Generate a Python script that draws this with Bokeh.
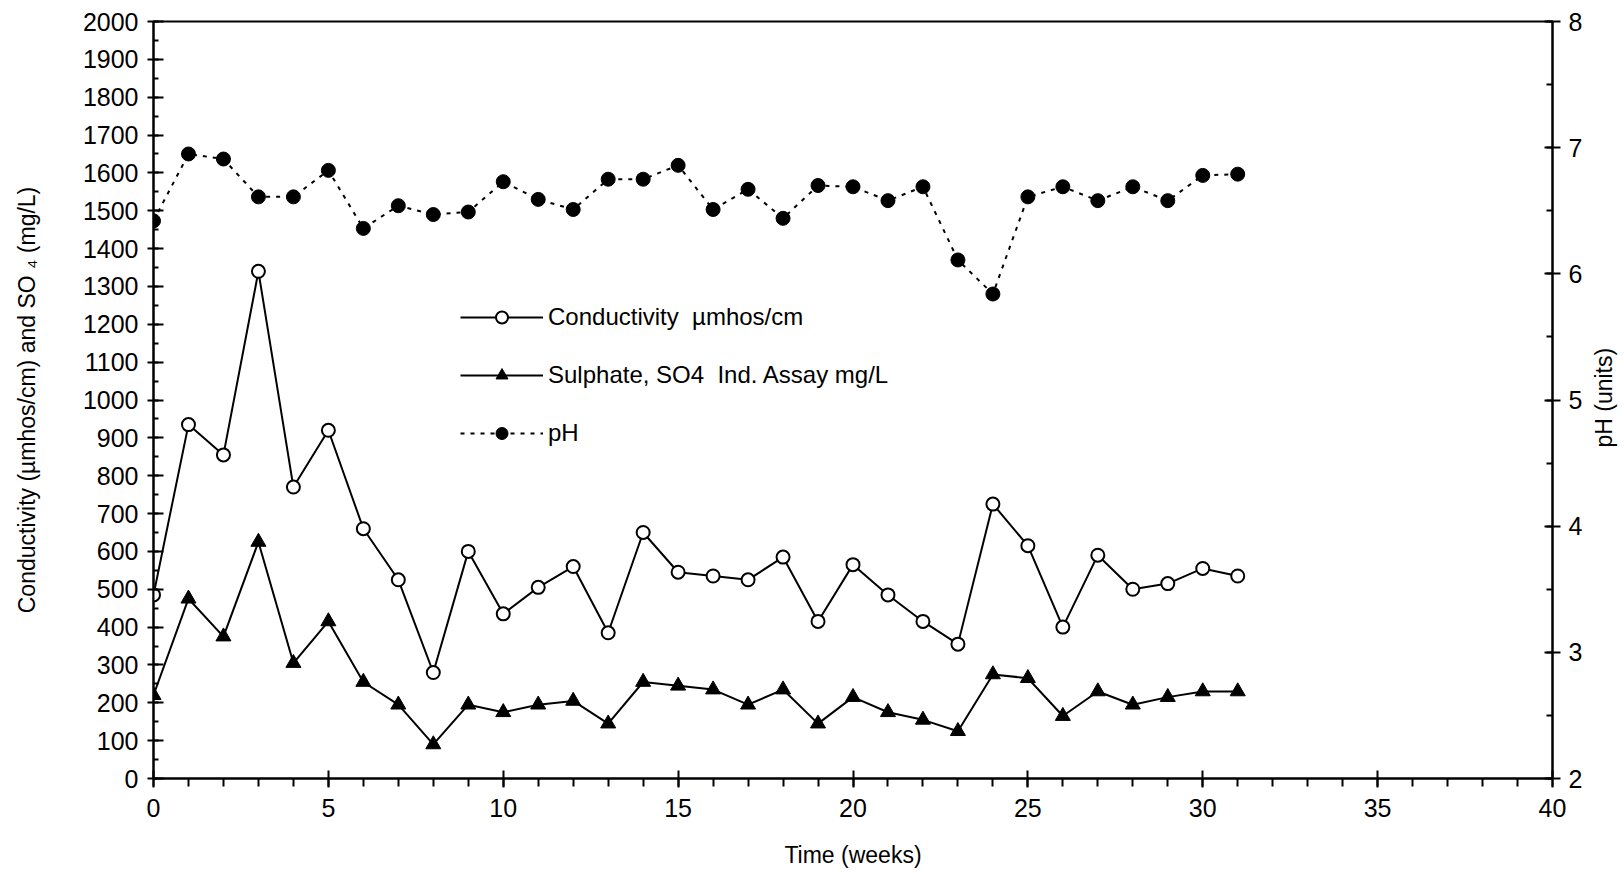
import math
from bokeh.plotting import figure
from bokeh.models import LinearAxis, Range1d, SingleIntervalTicker, Legend, LegendItem, Label
from bokeh.embed import file_html
from bokeh.resources import INLINE

weeks = list(range(0, 32))
conductivity = [485, 935, 855, 1340, 770, 920, 660, 525, 280, 600, 435, 505,
                560, 385, 650, 545, 535, 525, 585, 415, 565, 485, 415, 355,
                725, 615, 400, 590, 500, 515, 555, 535]
sulphate = [220, 475, 375, 625, 305, 415, 255, 195, 90, 195, 175, 195,
            205, 145, 255, 245, 235, 195, 235, 145, 215, 175, 155, 125,
            275, 265, 165, 230, 195, 215, 230, 230]
ph = [6.42, 6.95, 6.91, 6.61, 6.61, 6.82, 6.36, 6.54, 6.47, 6.49, 6.73, 6.59,
      6.51, 6.75, 6.75, 6.86, 6.51, 6.67, 6.44, 6.70, 6.69, 6.58, 6.69, 6.11,
      5.84, 6.61, 6.69, 6.58, 6.69, 6.58, 6.78, 6.79]

FONT = "Liberation Sans"

p = figure(width=1624, height=873, x_range=Range1d(0, 40), y_range=Range1d(0, 2000),
           output_backend="svg", toolbar_location=None,
           min_border_left=153, min_border_right=72, min_border_top=21, min_border_bottom=95)
p.xgrid.visible = False
p.ygrid.visible = False
p.outline_line_color = "black"
p.outline_line_width = 2
p.background_fill_color = "white"
p.border_fill_color = "white"

p.extra_y_ranges = {"ph": Range1d(2, 8)}

# left axis
ya = p.yaxis[0]
ya.ticker = SingleIntervalTicker(interval=100, num_minor_ticks=2)
ya.axis_label = "Conductivity (µmhos/cm) and SO ₄ (mg/L)"
ya.major_tick_in = 10
ya.major_tick_out = 6
ya.minor_tick_in = 5
ya.minor_tick_out = 0
ya.major_label_standoff = 9

# bottom axis
xa = p.xaxis[0]
xa.ticker = SingleIntervalTicker(interval=5, num_minor_ticks=5)
xa.axis_label = "Time (weeks)"
xa.major_tick_in = 8
xa.major_tick_out = 9
xa.minor_tick_in = 0
xa.minor_tick_out = 8
xa.major_label_standoff = 11

# right axis
ra = LinearAxis(y_range_name="ph", ticker=SingleIntervalTicker(interval=1, num_minor_ticks=2))
ra.major_tick_in = 8
ra.major_tick_out = 8
ra.minor_tick_in = 6
ra.minor_tick_out = 0
ra.major_label_standoff = 8
p.add_layout(ra, "right")

for ax in (ya, xa, ra):
    ax.axis_line_color = "black"
    ax.axis_line_width = 2
    ax.major_tick_line_color = "black"
    ax.major_tick_line_width = 2
    ax.minor_tick_line_color = "black"
    ax.minor_tick_line_width = 2
    ax.major_label_text_font = FONT
    ax.major_label_text_font_size = "25px"
    ax.major_label_text_color = "black"
    ax.axis_label_text_font = FONT
    ax.axis_label_text_font_size = "23px"
    ax.axis_label_text_font_style = "normal"
    ax.axis_label_text_color = "black"

ya.axis_label_standoff = 40
xa.axis_label_standoff = 22

# right axis title, reading bottom-to-top, placed in the right side panel
ph_title = Label(x=18, y=384, x_units="screen", y_units="screen",
                 text="pH  (units)", angle=math.pi / 2, text_align="center",
                 text_baseline="middle", text_font=FONT, text_font_size="23px",
                 text_color="black")
p.add_layout(ph_title, "right")

# series
c_line = p.line(weeks, conductivity, line_color="black", line_width=2)
c_pts = p.scatter(weeks, conductivity, marker="circle", size=13, fill_color="white",
                  line_color="black", line_width=2)
s_line = p.line(weeks, sulphate, line_color="black", line_width=2)
s_pts = p.scatter(weeks, sulphate, marker="triangle", size=15, fill_color="black",
                  line_color="black", line_width=1)
p_line = p.line(weeks, ph, y_range_name="ph", line_color="black", line_width=2, line_dash="4 6")
p_pts = p.scatter(weeks, ph, y_range_name="ph", marker="circle", size=14, fill_color="black",
                  line_color="black", line_width=1)

legend = Legend(items=[
    LegendItem(label="Conductivity  µmhos/cm", renderers=[c_line, c_pts]),
    LegendItem(label="Sulphate, SO4  Ind. Assay mg/L", renderers=[s_line, s_pts]),
    LegendItem(label="pH", renderers=[p_line, p_pts]),
], location=(307, 330))
legend.glyph_width = 83
legend.glyph_height = 30
legend.label_height = 30
legend.spacing = 28
legend.padding = 0
legend.margin = 0
legend.label_standoff = 5
legend.border_line_alpha = 0
legend.background_fill_alpha = 0
legend.label_text_font = FONT
legend.label_text_font_size = "24px"
legend.label_text_color = "black"
p.add_layout(legend, "center")

with open("out.html", "w") as f:
    f.write(file_html(p, INLINE))
